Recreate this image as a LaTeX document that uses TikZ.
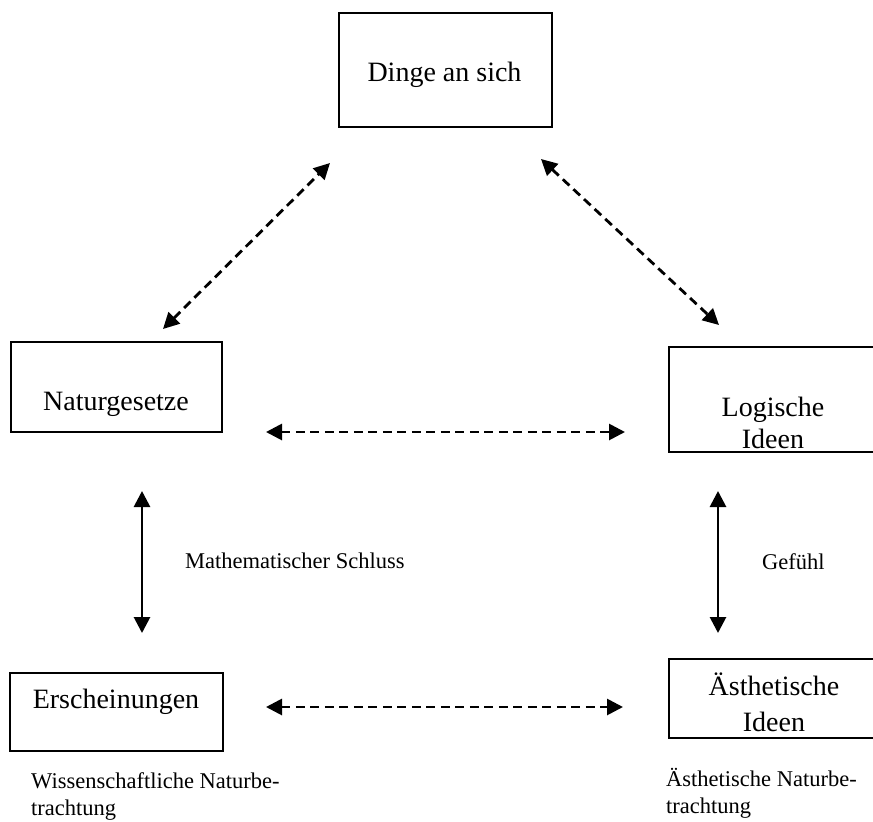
\documentclass[tikz,border=0pt]{standalone}
\usepackage{fontspec}
\setmainfont{Liberation Serif}
\usetikzlibrary{arrows.meta}
\tikzset{
  box/.style={draw, line width=2pt, inner sep=0pt, anchor=north west},
  boxtext/.style={font=\fontsize{28}{32}\selectfont, inner sep=0pt, anchor=base},
  lbl/.style={font=\fontsize{22.5}{27}\selectfont, inner sep=0pt, anchor=base west},
  dbl/.style={line width=2.8pt, {Triangle[length=16pt,width=16pt]}-{Triangle[length=16pt,width=16pt]}},
  dsh/.style={dbl, dash pattern=on 9pt off 5.5pt},
}
\begin{document}
\begin{tikzpicture}[x=1pt,y=-1pt]
\useasboundingbox (0,0) rectangle (873,822);
\fill[white] (0,0) rectangle (873,822);
\clip (0,0) rectangle (873,822);
% boxes
\node[box, minimum width=213pt, minimum height=114pt] (dinge) at (338,12) {};
\node[box, minimum width=211pt, minimum height=90pt] (natur) at (10,341) {};
\node[box, minimum width=230pt, minimum height=105pt] (logik) at (668,346) {};
\node[box, minimum width=213pt, minimum height=78pt] (ersch) at (9,672) {};
\node[box, minimum width=230pt, minimum height=79pt] (aesth) at (668,658) {};
% box texts
\node[boxtext] (dingeT) at (444.5,81) {Dinge an sich};
\node[boxtext] (naturT) at (116,410) {Naturgesetze};
\node[boxtext] (logikT1) at (773,416) {Logische};
\node[boxtext] (logikT2) at (773,448) {Ideen};
\node[boxtext] (erschT) at (116,708) {Erscheinungen};
\node[boxtext] (aesthT1) at (774,695) {Ästhetische};
\begin{scope}
\clip (668,658) rectangle (873,734);
\node[boxtext] (aesthT2) at (774,731) {Ideen};
\end{scope}
% labels
\node[lbl] (math) at (185,568) {Mathematischer Schluss};
\node[lbl] (gef) at (762,569) {Gefühl};
\node[lbl] (wiss1) at (31,788) {Wissenschaftliche Naturbe-};
\node[lbl] (wiss2) at (31,815) {trachtung};
\node[lbl] (aes1) at (666,786) {Ästhetische Naturbe-};
\node[lbl] (aes2) at (666,813) {trachtung};
% arrow end points
\coordinate (d1a) at (163,329);
\coordinate (d1b) at (330,163);
\coordinate (d2a) at (541,159);
\coordinate (d2b) at (719,325);
\coordinate (h1a) at (266,432);
\coordinate (h1b) at (625,432);
\coordinate (h2a) at (266,707);
\coordinate (h2b) at (623,707);
\coordinate (v1a) at (142,491);
\coordinate (v1b) at (142,633);
\coordinate (v2a) at (718,491);
\coordinate (v2b) at (718,633);
% connectors
\draw[dsh] (d1a) -- (d1b);
\draw[dsh] (d2a) -- (d2b);
\draw[dsh] (h1a) -- (h1b);
\draw[dsh] (h2a) -- (h2b);
\draw[dbl] (v1a) -- (v1b);
\draw[dbl] (v2a) -- (v2b);
\end{tikzpicture}
\end{document}
